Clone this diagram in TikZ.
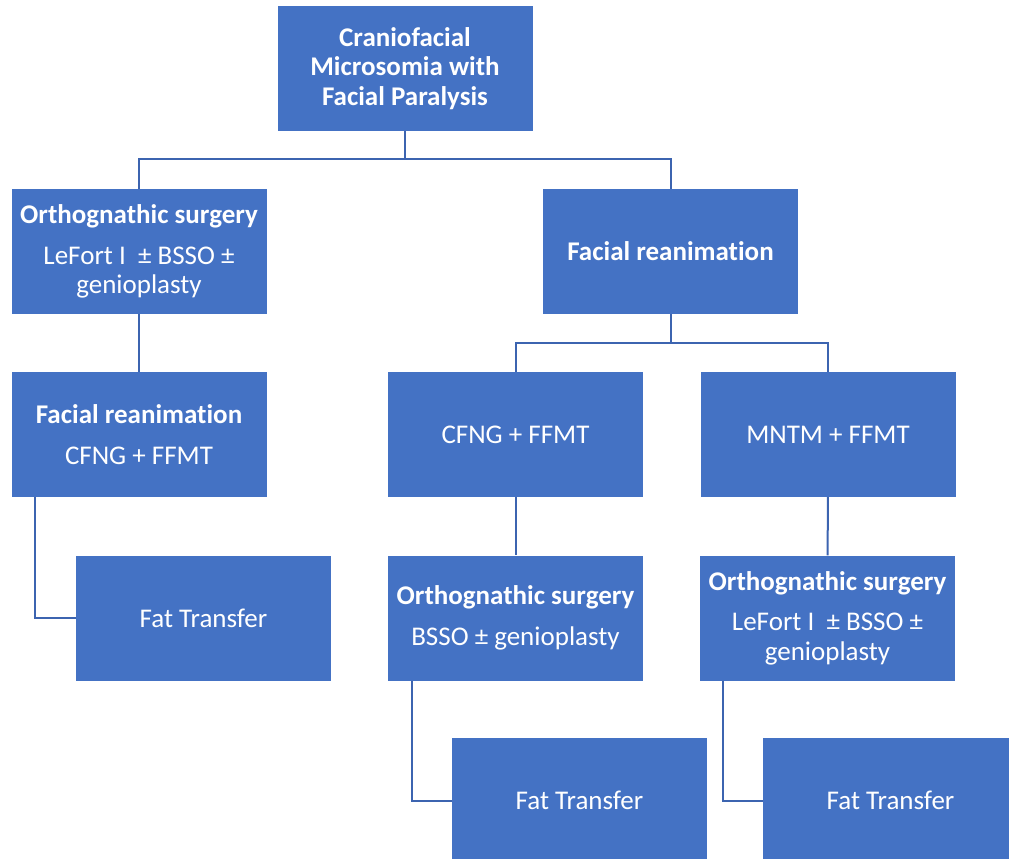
\documentclass[tikz,border=0pt]{standalone}
\usepackage{fontspec}
\setmainfont[RawFeature={-liga}]{Carlito}
\usepackage{tikz}
\usetikzlibrary{positioning}
\definecolor{boxblue}{RGB}{68,114,196}
\definecolor{linkblue}{RGB}{60,100,176}
\tikzset{>=latex}
\tikzstyle{stage}=[rectangle,fill=boxblue,text=white,minimum width=255pt,
  minimum height=125pt,inner sep=0pt,align=center,
  font=\fontsize{27}{29.5}\selectfont]
\tikzstyle{link}=[draw=linkblue,line width=2pt]

\begin{document}
\begin{tikzpicture}[x=1pt,y=-1pt]
  \useasboundingbox (0,0) rectangle (1009,859);

  \path (405,68.5) node (cfm) [stage] {\textbf{Craniofacial}\\\textbf{Microsomia with}\\\textbf{Facial Paralysis}};

  \path (139,251.5) node (orth1) [stage] {\textbf{Orthognathic surgery}\\[11pt]LeFort I\ \ ± BSSO ±\\genioplasty};
  \path (670.5,251.5) node (rean) [stage] {\textbf{Facial reanimation}};

  \path (139,434.5) node (rean1) [stage] {\textbf{Facial reanimation}\\[12pt]CFNG + FFMT};
  \path (515.5,434.5) node (cfng) [stage] {CFNG + FFMT};
  \path (828,434.5) node (mntm) [stage] {MNTM + FFMT};

  \path (203.5,618) node (fat1) [stage] {Fat Transfer};
  \path (515.5,618) node (orth2) [stage] {\textbf{Orthognathic surgery}\\[11pt]BSSO ± genioplasty};
  \path (827.5,618) node (orth3) [stage] {\textbf{Orthognathic surgery}\\[11pt]LeFort I\ \ ± BSSO ±\\genioplasty};

  \path (579.5,800.5) node (fat2) [stage] {Fat Transfer};
  \path (890.5,800.5) node (fat3) [stage] {Fat Transfer};

  % tree links
  \coordinate (j1) at (405,159);
  \coordinate (j2) at (670.5,343);
  \draw[link] (cfm.south) -- (j1) -| (orth1.north);
  \draw[link] (j1) -| (rean.north);
  \draw[link] (orth1) -- (rean1);
  \draw[link] (rean.south) -- (j2) -| (cfng.north);
  \draw[link] (j2) -| (mntm.north);
  \draw[link] (cfng) -- (orth2);
  \draw[link] (mntm) -- (orth3);

  % side links to fat transfer
  \draw[link] ([xshift=24pt]rean1.south west) |- (fat1.west);
  \draw[link] ([xshift=24pt]orth2.south west) |- (fat2.west);
  \draw[link] ([xshift=23pt]orth3.south west) |- (fat3.west);

\end{tikzpicture}
\end{document}
